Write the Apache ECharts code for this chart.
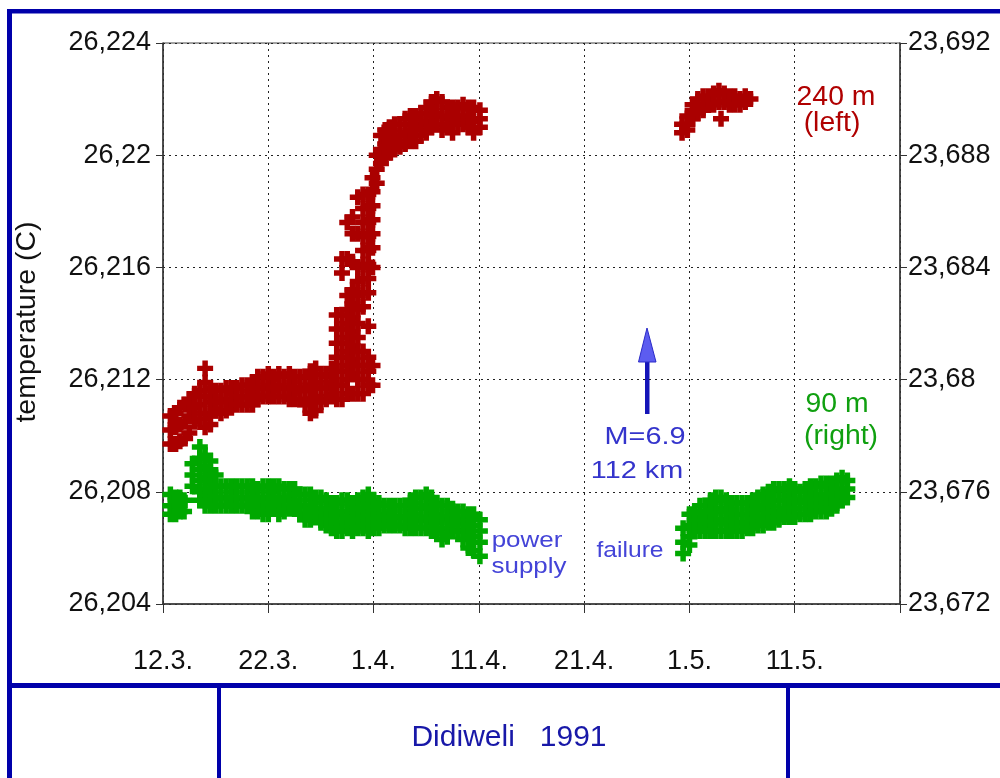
<!DOCTYPE html>
<html>
<head>
<meta charset="utf-8">
<script src="https://cdn.jsdelivr.net/npm/echarts@6/dist/echarts.min.js"></script>
<style>
html,body{margin:0;padding:0;background:#fff;}
#chart{width:1000px;height:778px;}
</style>
</head>
<body>
<div id="chart"></div>
<script>
// x values: days since 12 March 1991
const xTickLabels = ['12.3.', '22.3.', '1.4.', '11.4.', '21.4.', '1.5.', '11.5.', ''];
const leftTicks = ['26,204', '26,208', '26,212', '26,216', '26,22', '26,224'];
const rightTicks = ['23,672', '23,676', '23,68', '23,684', '23,688', '23,692'];

// 240 m sensor (left axis): each row = [day, readings at that time...]
const rows240m = [
[0.7,26.2107,26.2102,26.2097],
[1.2,26.2108,26.2103,26.2097],
[1.6,26.2110,26.2104,26.2098],
[2.1,26.2111,26.2105,26.2099],
[2.5,26.2113,26.2107,26.2101],
[3,26.2115,26.2110,26.2105],
[3.5,26.2116,26.2111,26.2106],
[4,26.2124,26.2119,26.2114,26.2108,26.2103],
[4.5,26.2117,26.2112,26.2107,26.2104],
[5,26.2116,26.2112,26.2109],
[5.5,26.2116,26.2112,26.2108],
[6,26.2117,26.2113,26.2109],
[6.5,26.2117,26.2113,26.2110],
[7,26.2117,26.2114,26.2111],
[7.5,26.2118,26.2114,26.2111],
[8,26.2118,26.2114,26.2111],
[8.5,26.2119,26.2115,26.2111],
[9,26.2121,26.2117,26.2113],
[9.5,26.2121,26.2117,26.2114],
[10,26.2122,26.2118,26.2114],
[10.5,26.2121,26.2117,26.2114],
[11,26.2122,26.2118,26.2114],
[11.5,26.2121,26.2117,26.2114],
[12,26.2122,26.2117,26.2113],
[12.5,26.2121,26.2117,26.2113],
[13,26.2121,26.2117,26.2113],
[13.5,26.2121,26.2116,26.2111],
[14,26.2123,26.2118,26.2113,26.2108],
[14.5,26.2124,26.2119,26.2114,26.2109],
[15,26.2122,26.2117,26.2112],
[15.5,26.2121,26.2117,26.2113],
[16,26.2124,26.2119,26.2114],
[16.5,26.2143,26.2138,26.2133,26.2128,26.2123,26.2118,26.2113],
[17,26.2163,26.2158,26.2143,26.2138,26.2133,26.2128,26.2123,26.2118,26.2113],
[17.5,26.2176,26.2163,26.2150,26.2145,26.2140,26.2135,26.2130,26.2125,26.2120,26.2115],
[18,26.2178,26.2172,26.2162,26.2152,26.2147,26.2142,26.2137,26.2132,26.2127,26.2122,26.2115],
[18.5,26.2185,26.2172,26.2160,26.2155,26.2150,26.2145,26.2140,26.2135,26.2130,26.2125,26.2120,26.2115],
[19,26.2186,26.2181,26.2176,26.2171,26.2166,26.2161,26.2156,26.2151,26.2146,26.2130,26.2125,26.2120,26.2115],
[19.5,26.2186,26.2181,26.2176,26.2171,26.2166,26.2161,26.2156,26.2151,26.2139,26.2128,26.2123,26.2118],
[19.9,26.2192,26.2187,26.2182,26.2177,26.2172,26.2167,26.2160,26.2125,26.2118],
[20.3,26.2200,26.2195,26.2190],
[20.7,26.2207,26.2202,26.2197],
[21.1,26.2209,26.2204,26.2199],
[21.5,26.2210,26.2205,26.2201],
[22,26.2211,26.2206,26.2202],
[22.5,26.2211,26.2207,26.2203],
[23,26.2213,26.2208,26.2204],
[23.5,26.2214,26.2209,26.2205],
[24,26.2214,26.2210,26.2205],
[24.5,26.2215,26.2211,26.2207],
[25,26.2217,26.2212,26.2208],
[25.5,26.2219,26.2214,26.2210],
[26,26.2220,26.2215,26.2211],
[26.5,26.2219,26.2214,26.2209],
[27,26.2217,26.2213,26.2210],
[27.5,26.2217,26.2212,26.2208],
[28,26.2217,26.2214,26.2211],
[28.5,26.2218,26.2214,26.2211],
[29,26.2217,26.2213,26.2210],
[29.5,26.2217,26.2212,26.2208],
[30.1,26.2216,26.2213,26.2210],
[49.3,26.2211,26.2208],
[49.8,26.2214,26.2211,26.2209],
[50.3,26.2218,26.2215,26.2213],
[50.8,26.2220,26.2217,26.2215],
[51.3,26.2221,26.2218,26.2216],
[51.8,26.2221,26.2218],
[52.3,26.2222,26.2218],
[52.8,26.2223,26.2219],
[53,26.2213],
[53.3,26.2222,26.2219],
[53.8,26.2221,26.2218],
[54.3,26.2221,26.2218],
[54.8,26.2220,26.2218],
[55.3,26.2221,26.2219],
[55.8,26.2220]
];

// 90 m sensor (right axis): each row = [day, readings at that time...]
const rows90m = [
[0.7,23.6759,23.6755,23.6752],
[1.2,23.6758,23.6755,23.6752],
[1.6,23.6758,23.6755,23.6753],
[2,23.6757,23.6753],
[2.8,23.6770,23.6766,23.6762],
[3.5,23.6776,23.6772,23.6768,23.6764,23.6760,23.6757],
[4,23.6773,23.6769,23.6765,23.6761,23.6758,23.6755],
[4.5,23.6771,23.6767,23.6763,23.6759,23.6755],
[5,23.6766,23.6762,23.6758,23.6755],
[5.5,23.6762,23.6758,23.6755],
[6,23.6762,23.6758,23.6755],
[6.5,23.6762,23.6758,23.6755],
[7,23.6762,23.6758,23.6755],
[7.5,23.6762,23.6758,23.6755],
[8,23.6762,23.6758,23.6755],
[8.5,23.6762,23.6758,23.6755,23.6753],
[9,23.6761,23.6757,23.6753],
[9.5,23.6762,23.6758,23.6755,23.6752],
[10,23.6762,23.6758,23.6755,23.6752],
[10.5,23.6762,23.6758,23.6754],
[11,23.6762,23.6758,23.6755,23.6752],
[11.5,23.6761,23.6757,23.6753],
[12,23.6761,23.6757,23.6754],
[12.5,23.6761,23.6757,23.6754],
[13,23.6759,23.6755,23.6752],
[13.5,23.6759,23.6755,23.6752,23.6750],
[14,23.6759,23.6755,23.6752,23.6750],
[14.5,23.6758,23.6754,23.6751],
[15,23.6758,23.6754,23.6751,23.6749],
[15.5,23.6757,23.6753,23.6750,23.6748],
[16,23.6756,23.6752,23.6749,23.6747],
[16.5,23.6756,23.6752,23.6749,23.6746],
[17,23.6757,23.6753,23.6749,23.6746],
[17.5,23.6757,23.6753,23.6750,23.6747],
[18,23.6756,23.6752,23.6749,23.6746],
[18.5,23.6757,23.6753,23.6750,23.6747],
[19,23.6758,23.6754,23.6750,23.6747],
[19.5,23.6759,23.6755,23.6751,23.6748,23.6746],
[20,23.6757,23.6753,23.6750,23.6747],
[20.5,23.6756,23.6752,23.6749,23.6747],
[21,23.6755,23.6751,23.6748],
[21.5,23.6755,23.6751,23.6748],
[22,23.6755,23.6751,23.6748],
[22.5,23.6755,23.6751,23.6748],
[23,23.6755,23.6751,23.6747],
[23.5,23.6757,23.6753,23.6750,23.6747],
[24,23.6758,23.6754,23.6750,23.6747],
[24.5,23.6758,23.6754,23.6750,23.6747],
[25,23.6759,23.6755,23.6751,23.6747],
[25.5,23.6758,23.6754,23.6750,23.6746],
[26,23.6756,23.6752,23.6749,23.6746],
[26.5,23.6755,23.6751,23.6747,23.6743],
[27,23.6755,23.6751,23.6747,23.6744],
[27.5,23.6754,23.6750,23.6746],
[28,23.6753,23.6750,23.6746],
[28.5,23.6753,23.6749,23.6746,23.6743],
[29,23.6752,23.6748,23.6744,23.6740],
[29.5,23.6752,23.6748,23.6744,23.6739],
[30.1,23.6750,23.6746,23.6742,23.6737],
[49.4,23.6747,23.6742,23.6738],
[50,23.6752,23.6748,23.6744,23.6741],
[50.5,23.6753,23.6749,23.6746],
[51,23.6755,23.6751,23.6748,23.6746],
[51.5,23.6755,23.6751,23.6748,23.6746],
[52,23.6757,23.6753,23.6749,23.6746],
[52.5,23.6758,23.6754,23.6750,23.6746],
[53,23.6758,23.6754,23.6750,23.6746],
[53.5,23.6757,23.6753,23.6749,23.6746],
[54,23.6756,23.6752,23.6749,23.6746],
[54.5,23.6756,23.6752,23.6749,23.6746],
[55,23.6756,23.6752,23.6749,23.6746],
[55.5,23.6756,23.6752,23.6749,23.6747],
[56,23.6757,23.6753,23.6750,23.6747],
[56.5,23.6758,23.6754,23.6751,23.6748],
[57,23.6759,23.6755,23.6751,23.6748],
[57.5,23.6760,23.6756,23.6752,23.6749],
[58,23.6761,23.6757,23.6753,23.6749],
[58.5,23.6761,23.6757,23.6753,23.6750],
[59,23.6761,23.6757,23.6754,23.6751],
[59.5,23.6762,23.6758,23.6754,23.6751],
[60,23.6761,23.6757,23.6754,23.6751],
[60.5,23.6760,23.6756,23.6752],
[61,23.6761,23.6757,23.6752],
[61.5,23.6762,23.6758,23.6754,23.6752],
[62,23.6762,23.6758,23.6755,23.6753],
[62.5,23.6763,23.6759,23.6756,23.6753],
[63,23.6763,23.6759,23.6756,23.6753],
[63.5,23.6763,23.6759,23.6756,23.6754],
[64,23.6764,23.6760,23.6757,23.6755],
[64.5,23.6765,23.6761,23.6757],
[65,23.6764,23.6761,23.6758]
];

function toPoints(rows) {
  const pts = [];
  rows.forEach(function (r) {
    for (let i = 1; i < r.length; i++) pts.push([r[0], r[i]]);
  });
  return pts;
}

const FONT = '"Liberation Sans", Arial, Helvetica, sans-serif';
const PLUS = 'path://M4.6,0L9.4,0L9.4,4.6L14,4.6L14,9.4L9.4,9.4L9.4,14L4.6,14L4.6,9.4L0,9.4L0,4.6L4.6,4.6Z';
const FRAME = '#0000aa';
const ANNO = '#3434cc';

function yLabel(ticks, min) {
  return function (v) {
    const i = Math.round((v - min) / 0.004);
    return ticks[i] !== undefined ? ticks[i] : '';
  };
}

function txt(text, x, y, color, size, sx) {
  return {type: 'text', x: x, y: y, scaleX: sx || 1, silent: true,
    style: {text: text, x: 0, y: 0, textAlign: 'center', textVerticalAlign: 'middle', fill: color, font: size + 'px ' + FONT}};
}

const chart = echarts.init(document.getElementById('chart'), null, {renderer: 'canvas'});
const option = {
  animation: false,
  backgroundColor: '#fff',
  grid: {left: 163, right: 100, top: 43, bottom: 174, show: true, borderColor: '#444', borderWidth: 1, backgroundColor: 'transparent'},
  xAxis: {
    type: 'value', min: 0, max: 70, interval: 10,
    axisLine: {onZero: false, lineStyle: {color: '#333', width: 1.5}},
    axisTick: {show: true, inside: false, length: 9, lineStyle: {color: '#333', width: 1}},
    axisLabel: {
      formatter: function (v) { return xTickLabels[Math.round(v / 10)] || ''; },
      fontSize: 27, color: '#111', margin: 44, fontFamily: FONT
    },
    splitLine: {show: true, lineStyle: {color: '#222', type: [2, 4], width: 1}}
  },
  yAxis: [
    {
      type: 'value', min: 26.204, max: 26.224, interval: 0.004, position: 'left',
      axisLine: {show: true, lineStyle: {color: '#333', width: 1.5}},
      axisTick: {show: true, inside: false, length: 7, lineStyle: {color: '#333'}},
      axisLabel: {formatter: yLabel(leftTicks, 26.204), fontSize: 27, color: '#111', margin: 12, fontFamily: FONT},
      splitLine: {show: true, lineStyle: {color: '#222', type: [2, 4], width: 1}}
    },
    {
      type: 'value', min: 23.672, max: 23.692, interval: 0.004, position: 'right',
      axisLine: {show: true, lineStyle: {color: '#333', width: 1.5}},
      axisTick: {show: true, inside: false, length: 7, lineStyle: {color: '#333'}},
      axisLabel: {formatter: yLabel(rightTicks, 23.672), fontSize: 27, color: '#111', margin: 8, fontFamily: FONT},
      splitLine: {show: false}
    }
  ],
  series: [
    {
      name: '240 m', type: 'scatter', yAxisIndex: 0, data: toPoints(rows240m),
      symbol: PLUS, symbolSize: 16, itemStyle: {color: '#aa0000', opacity: 1}, z: 3
    },
    {
      name: '90 m', type: 'scatter', yAxisIndex: 1, data: toPoints(rows90m),
      symbol: PLUS, symbolSize: 16, itemStyle: {color: '#00a800', opacity: 1}, z: 3
    }
  ],
  graphic: [
    // frame
    {type: 'rect', shape: {x: 7, y: 9, width: 995, height: 4.5}, style: {fill: FRAME}, silent: true},
    {type: 'rect', shape: {x: 7, y: 9, width: 5, height: 775}, style: {fill: FRAME}, silent: true},
    {type: 'rect', shape: {x: 7, y: 683, width: 995, height: 5}, style: {fill: FRAME}, silent: true},
    {type: 'rect', shape: {x: 217, y: 683, width: 4, height: 100}, style: {fill: FRAME}, silent: true},
    {type: 'rect', shape: {x: 786, y: 683, width: 4, height: 100}, style: {fill: FRAME}, silent: true},
    txt('Didiweli   1991', 509, 738, '#1818a8', 30, 1),
    // axis title
    {type: 'text', rotation: Math.PI / 2, x: 27, y: 322, silent: true,
      style: {text: 'temperature (C)', x: 0, y: 0, textAlign: 'center', textVerticalAlign: 'middle', fill: '#111', font: '28.5px ' + FONT}},
    // series labels
    txt('240 m', 836, 98, '#b00000', 27, 1.05),
    txt('(left)', 832, 124, '#b00000', 27, 1.05),
    txt('90 m', 837, 405, '#10a010', 27, 1.05),
    txt('(right)', 841, 437, '#10a010', 27, 1.05),
    // earthquake annotation
    {type: 'rect', shape: {x: 645, y: 358, width: 4.5, height: 56}, style: {fill: '#1414b8'}, silent: true},
    {type: 'polygon', shape: {points: [[647, 328], [638.5, 362], [656, 362]]}, style: {fill: '#5c5cf0', stroke: '#2a2ac8', lineWidth: 1}, silent: true},
    txt('M=6.9', 645, 437, ANNO, 24, 1.2),
    txt('112 km', 637, 471, ANNO, 24, 1.2),
    txt('power', 527, 541, '#4444d8', 22, 1.18),
    txt('supply', 529, 567, '#4444d8', 22, 1.18),
    txt('failure', 630, 551, '#4444d8', 22, 1.12)
  ]
};
chart.setOption(option);
</script>
</body>
</html>
